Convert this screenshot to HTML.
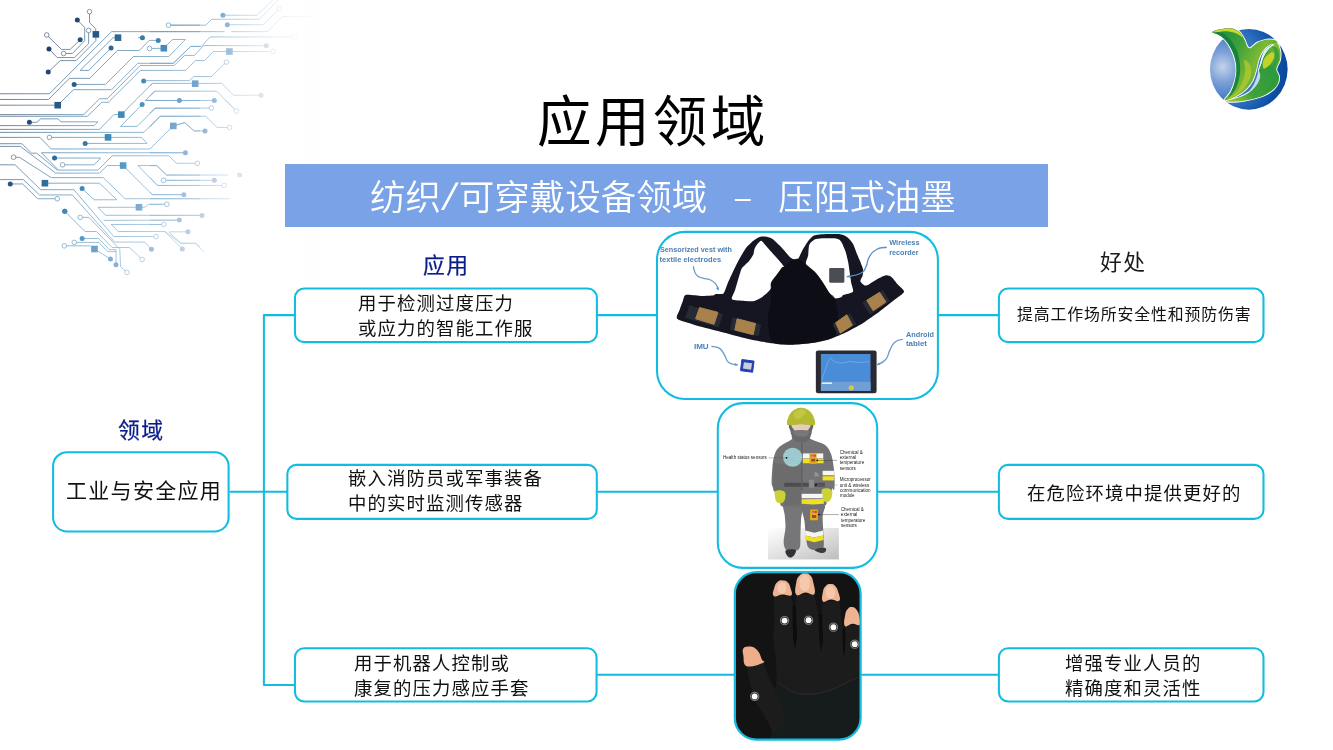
<!DOCTYPE html>
<html lang="zh-CN">
<head>
<meta charset="utf-8">
<title>应用领域</title>
<style>
html,body{margin:0;padding:0;background:#fff;}
body{width:1333px;height:750px;position:relative;overflow:hidden;font-family:"Liberation Sans","Noto Sans CJK SC",sans-serif;color:#000;}
.abs{position:absolute;}
#art{position:absolute;left:0;top:0;width:1333px;height:750px;}
.t{position:absolute;white-space:nowrap;line-height:1;will-change:transform;}
#title{left:536.5px;top:96px;font-size:54.5px;letter-spacing:3.4px;}
#bar{left:285px;top:164px;width:763px;height:63px;background:#7aa2e6;}
#sub{left:370px;top:176.5px;font-size:35.5px;color:#fff;font-weight:350;font-family:"Noto Sans CJK SC","Liberation Sans",sans-serif;}
#sub i{display:inline-block;font-style:normal;text-align:center;}
.lbl{font-size:21.8px;letter-spacing:1.4px;color:#0a1e88;-webkit-text-stroke:0.25px #0a1e88;}
.box{font-size:18.4px;letter-spacing:1.1px;line-height:24.6px;color:#111;}
</style>
</head>
<body>
<svg id="art" viewBox="0 0 1333 750">
<defs>
<filter id="soft" x="-5%" y="-5%" width="110%" height="110%"><feGaussianBlur stdDeviation="0.45"/></filter>
<filter id="soft2" x="-5%" y="-20%" width="110%" height="140%"><feGaussianBlur stdDeviation="0.3"/></filter>
<clipPath id="clip1"><rect x="657" y="231.85" width="280.9" height="167.05" rx="28"/></clipPath>
<clipPath id="clip2"><rect x="717.8" y="403.1" width="159.4" height="164.75" rx="25"/></clipPath>
<clipPath id="clip3"><rect x="734.8" y="572.3" width="125.6" height="167.1" rx="21"/></clipPath>
<linearGradient id="shad" x1="0" y1="0" x2="1" y2="1"><stop offset="0" stop-color="#ffffff"/><stop offset="0.45" stop-color="#e4e4e4"/><stop offset="1" stop-color="#bdbdbd"/></linearGradient>
<radialGradient id="lg1" cx="0.18" cy="0.47" r="0.9" fx="0.16" fy="0.47"><stop offset="0" stop-color="#c4d2ec"/><stop offset="0.22" stop-color="#7a9fd6"/><stop offset="0.5" stop-color="#3574c2"/><stop offset="0.8" stop-color="#0f50a6"/><stop offset="1" stop-color="#083e90"/></radialGradient>
<linearGradient id="lg2" x1="0" y1="0" x2="1" y2="0.6"><stop offset="0" stop-color="#1c8a3e"/><stop offset="0.4" stop-color="#3c9f3a"/><stop offset="0.7" stop-color="#7cba34"/><stop offset="1" stop-color="#3f9f3a"/></linearGradient>
<linearGradient id="lg3" x1="1" y1="0" x2="0" y2="1"><stop offset="0" stop-color="#8cc232"/><stop offset="0.3" stop-color="#2f9a3c"/><stop offset="0.7" stop-color="#3fa23a"/><stop offset="1" stop-color="#b4cc2c"/></linearGradient>
<linearGradient id="cg" gradientUnits="userSpaceOnUse" x1="20" y1="40" x2="290" y2="190"><stop offset="0" stop-color="#3a4866"/><stop offset="0.3" stop-color="#4a86ae"/><stop offset="0.6" stop-color="#7eaed0"/><stop offset="0.85" stop-color="#c2d4e8"/><stop offset="1" stop-color="#f4f7fb"/></linearGradient>
<linearGradient id="cg2" gradientUnits="userSpaceOnUse" x1="20" y1="40" x2="290" y2="190"><stop offset="0" stop-color="#0f1d4a"/><stop offset="0.25" stop-color="#1f5a8a"/><stop offset="0.45" stop-color="#3d8fc0"/><stop offset="0.65" stop-color="#8fb0d6"/><stop offset="0.85" stop-color="#cfdaec"/><stop offset="1" stop-color="#f4f7fb"/></linearGradient>
<linearGradient id="cfade" gradientUnits="userSpaceOnUse" x1="205" y1="0" x2="305" y2="0"><stop offset="0" stop-color="#fff" stop-opacity="0"/><stop offset="1" stop-color="#fff" stop-opacity="0.9"/></linearGradient>
</defs>
<g id="circuit" opacity="0.95">
<g fill="none" stroke="url(#cg)" stroke-width="0.75" stroke-linejoin="round">
<path d="M89.53 11.61 L89.53 22.61 L95.7 28.64 L95.86 34.36 M77.32 20.05 L84.7 27.43 L84.7 40.69 L72.34 53.5 L63.6 53.5 M88.62 30.44 L88.62 43.71 L74.6 57.57 L57.27 57.57 L48.98 48.98 M46.72 34.97 L61.49 49.43 L70.08 49.43 L80.18 39.79 M95.86 34.36 L95.86 40.69 L76.11 60.59 L60.29 60.59 L48.23 72.04 M0 93.75 L49.43 93.75 L111.53 31.65 L200 31.65 M150 31.65 L224.6 31.65 M231.39 31.65 L267.56 31.65 L282.33 16.58 L314.28 16.58 M0 99.47 L48.53 99.47 L69.33 78.37 L89.68 78.37 L117.56 50.49 L139.41 50.49 L149.21 40.39 L158.25 40.39 M118.01 37.68 L113.04 37.68 L80.18 70.38 L88.92 70.38 L111.08 47.93 M0 105.2 L57.72 105.2 L73.55 89.68 L111.53 89.68 L137.91 63.3 L173.32 63.3 L190.66 46.42 L200 46.42 M74.15 84.4 L105.5 84.4 L133.38 56.52 L168.8 56.52 L185.38 39.49 L172.57 39.49 L163.83 48.23 M168.5 25.17 L200 25.17 M137.91 37.68 L142.43 37.68 M149.51 48.53 L163.83 48.23 M107.76 98.27 L140.17 65.56 L149.96 65.56 M109.27 101.28 L140.47 70.38 L149.96 70.38 M135.64 99.92 L152.22 83.65 M143.63 80.93 L149.96 80.63 M155.24 91.18 L145.44 100.23 L150.72 100.53 M168.54 25.17 L205.76 25.17 L211.79 19.29 L259.27 19.29 L278.11 0 M222.95 15.22 L257.01 15.22 L272.83 0 M227.32 24.72 L263.34 24.72 L279.62 8.29 M150 63.3 L173.36 63.3 L190.69 46.42 L201.24 46.42 L210.29 36.93 L294.39 36.93 M150 65.56 L174.11 65.56 L184.66 55.46 L194.46 55.46 L203.5 45.52 L266.35 45.82 M150 70.38 L185.72 70.38 L195.21 60.59 L204.56 60.59 L213.3 51.54 L273.13 51.54 M150 80.63 L189.49 80.63 L193.71 76.56 L211.49 76.56 L226.41 62.09 M150 85.91 L152.26 83.35 L221.59 83.35 L233.65 95.25 L261.08 95.25 M150 95.7 L154.52 91.18 L216.62 91.18 L236.36 111.08 M150 100.53 L214.36 100.53 M150 113.04 L155.28 108.06 L211.34 108.06 M0 114.62 L83.65 114.62 L99.47 98.79 L107.76 98.79 M0 116.28 L87.42 116.28 L101.73 102.26 L109.27 102.26 M29.39 122.31 L36.93 122.31 L40.69 118.84 L58.03 118.84 L61.04 121.85 L97.97 121.85 L94.2 125.62 L0 125.62 M0 129.39 L99.47 129.39 L113.79 114.62 L121.33 114.62 L135.64 100 M0 132.4 L143.93 132.4 L159.76 116.28 L200 116.28 M0 137.38 L39.94 137.38 L51.24 148.98 L149.96 148.98 L173.32 125.92 L184.63 122.61 L194.42 130.9 L200 130.9 M49.43 137.38 L141.67 137.38 L146.95 143.41 L85.15 143.41 M142.13 104.52 L120.57 126.38 L137.15 126.38 L155.24 108.29 L200 108.29 M145.44 100.45 L200 100.45 M0 143.71 L21.85 143.71 L31.65 153.2 L36.62 153.2 L57.27 170.08 L97.97 170.08 L112.28 155.76 L168.8 155.76 L176.34 163.3 L197.44 163.3 M0 146.42 L20.35 146.42 L55.76 173.1 L99.47 173.1 L107.31 165.56 L123.13 165.56 L152.22 194.65 L183.87 194.65 M58.03 169.63 L41.45 152.75 L185.38 152.75 M54.56 158.03 L100.68 158.03 L94.2 164.81 L62.55 164.81 M13.56 157.27 L19.29 157.27 L51.24 177.62 L103.24 177.62 L125.09 198.72 L200 198.72 M0 164.81 L15.07 164.81 L40.69 189.68 L73.85 189.68 M44.91 183.2 L99.47 183.2 L116.8 199.77 L94.2 199.77 L82.14 188.62 M0 179.58 L23.36 179.58 L39.49 194.95 L72.34 194.95 M10.25 183.95 L22.61 183.95 L37.68 198.72 L57.27 198.72 M200 175.06 L166.54 175.06 L156.74 165.56 L137.91 165.56 L157.5 185.46 L200 185.46 M163.53 180.33 L200 180.33 M97.97 207.31 L138.96 207.31 L144.69 207.31 L148.46 204.3 L166.84 204.3 M97.97 207.31 L105.5 215.3 L200 215.3 M73.85 189.65 L113.79 236.52 L155.99 236.52 M72.34 195.07 L114.54 242.09 L144.69 242.09 L151.47 249.33 M103.99 220.39 L179.35 220.09 M163.83 224.46 L111.08 224.46 L118.31 231.54 L165.03 231.54 L180.86 243.3 L195.93 243.3 L200 247.07 M169.56 231.85 L187.94 231.85 M165.03 231.54 L182.37 249.03 M64.81 211.35 L85.15 231.54 L96.46 231.54 L112.28 247.52 L129.62 247.52 L142.13 259.43 M80.18 217.38 L88.92 217.38 L119.82 249.33 L120.57 266.66 L126.9 272.39 M82.14 238.48 L98.72 238.48 L109.27 249.63 L116.05 249.63 L116.05 264.7 M74.3 242.4 L98.72 242.4 L107.76 251.59 L116.05 251.59 M64.36 245.86 L90.43 245.86 L94.5 249.03 L110.47 258.98 M225.36 100 L236.36 111 M150 126.83 L160.25 116.28 L205.76 116.28 L217.07 127.43 L229.58 127.43 M173.36 125.92 L184.97 122.61 L193.71 130.9 L205.01 130.9 M150 152.75 L185.72 152.75 M150 165.56 L156.78 165.56 L166.58 175.06 L228.37 175.06 M163.56 180.33 L214.36 180.33 M150 177.62 L157.54 185.46 L224.15 185.46 M150 191.94 L152.26 194.65 L183.91 194.65 M150 198.72 L229.88 198.72 M150 204.3 L166.88 204.3 M150 215.42 L202 215.42 M150 220.39 L179.69 220.09 M150 224.46 L163.87 224.46 M168.84 231.85 L180.9 243.3 L195.21 243.3 L204.26 252.34"/>
</g>
<g fill="url(#cg2)">
<circle cx="77.32" cy="20.05" r="2.5"/>
<circle cx="48.98" cy="48.98" r="2.5"/>
<circle cx="80.18" cy="39.79" r="2.5"/>
<circle cx="48.23" cy="72.04" r="2.5"/>
<circle cx="158.25" cy="40.39" r="2.5"/>
<circle cx="111.08" cy="47.93" r="2.5"/>
<circle cx="74.15" cy="84.4" r="2.5"/>
<circle cx="142.43" cy="37.68" r="2.5"/>
<circle cx="143.63" cy="80.93" r="2.5"/>
<circle cx="222.95" cy="15.22" r="2.5"/>
<circle cx="227.32" cy="24.72" r="2.5"/>
<circle cx="266.35" cy="45.82" r="2.5"/>
<circle cx="261.08" cy="95.25" r="2.5"/>
<circle cx="179.39" cy="100.53" r="2.5"/>
<circle cx="214.36" cy="100.53" r="2.5"/>
<circle cx="29.39" cy="122.31" r="2.5"/>
<circle cx="85.15" cy="143.41" r="2.5"/>
<circle cx="142.13" cy="104.52" r="2.5"/>
<circle cx="183.87" cy="194.65" r="2.5"/>
<circle cx="185.38" cy="152.75" r="2.5"/>
<circle cx="54.56" cy="158.03" r="2.5"/>
<circle cx="82.14" cy="188.62" r="2.5"/>
<circle cx="10.25" cy="183.95" r="2.5"/>
<circle cx="64.81" cy="211.23" r="2.5"/>
<circle cx="151.47" cy="249.33" r="2.5"/>
<circle cx="179.35" cy="220.09" r="2.5"/>
<circle cx="187.94" cy="231.85" r="2.5"/>
<circle cx="182.37" cy="249.03" r="2.5"/>
<circle cx="64.81" cy="211.35" r="2.5"/>
<circle cx="82.14" cy="238.48" r="2.5"/>
<circle cx="116.05" cy="264.7" r="2.5"/>
<circle cx="110.47" cy="258.98" r="2.5"/>
<circle cx="205.01" cy="130.9" r="2.5"/>
<circle cx="239.68" cy="175.06" r="2.5"/>
<circle cx="214.36" cy="180.33" r="2.5"/>
<circle cx="202.0" cy="215.42" r="2.5"/>
<rect x="92.56" y="31.06" width="6.6" height="6.6"/>
<rect x="114.71" y="34.38" width="6.6" height="6.6"/>
<rect x="54.42" y="101.90" width="6.6" height="6.6"/>
<rect x="160.53" y="44.93" width="6.6" height="6.6"/>
<rect x="226.13" y="48.24" width="6.6" height="6.6"/>
<rect x="191.91" y="80.35" width="6.6" height="6.6"/>
<rect x="118.03" y="111.32" width="6.6" height="6.6"/>
<rect x="170.02" y="122.62" width="6.6" height="6.6"/>
<rect x="104.76" y="134.08" width="6.6" height="6.6"/>
<rect x="119.83" y="162.26" width="6.6" height="6.6"/>
<rect x="41.61" y="179.90" width="6.6" height="6.6"/>
<rect x="135.66" y="204.01" width="6.6" height="6.6"/>
<rect x="91.20" y="245.73" width="6.6" height="6.6"/>
</g>
<g fill="#fff" stroke="url(#cg)" stroke-width="0.7">
<circle cx="89.53" cy="11.61" r="2.3"/>
<circle cx="63.6" cy="53.5" r="2.3"/>
<circle cx="88.62" cy="30.44" r="2.3"/>
<circle cx="46.72" cy="34.97" r="2.3"/>
<circle cx="168.5" cy="25.17" r="2.3"/>
<circle cx="149.51" cy="48.53" r="2.3"/>
<circle cx="279.62" cy="8.29" r="2.3"/>
<circle cx="294.39" cy="36.93" r="2.3"/>
<circle cx="273.13" cy="51.54" r="2.3"/>
<circle cx="226.41" cy="62.09" r="2.3"/>
<circle cx="236.36" cy="111.08" r="2.3"/>
<circle cx="211.34" cy="108.06" r="2.3"/>
<circle cx="49.43" cy="137.38" r="2.3"/>
<circle cx="197.44" cy="163.3" r="2.3"/>
<circle cx="62.55" cy="164.81" r="2.3"/>
<circle cx="13.56" cy="157.27" r="2.3"/>
<circle cx="57.27" cy="198.72" r="2.3"/>
<circle cx="163.53" cy="180.33" r="2.3"/>
<circle cx="166.84" cy="204.3" r="2.3"/>
<circle cx="155.99" cy="236.52" r="2.3"/>
<circle cx="163.83" cy="224.46" r="2.3"/>
<circle cx="142.13" cy="259.43" r="2.3"/>
<circle cx="80.18" cy="217.38" r="2.3"/>
<circle cx="126.9" cy="272.39" r="2.3"/>
<circle cx="74.3" cy="242.4" r="2.3"/>
<circle cx="64.36" cy="245.86" r="2.3"/>
<circle cx="229.58" cy="127.43" r="2.3"/>
<circle cx="163.56" cy="180.33" r="2.3"/>
<circle cx="224.15" cy="185.46" r="2.3"/>
<circle cx="166.88" cy="204.3" r="2.3"/>
</g>
<rect x="0" y="0" width="320" height="300" fill="url(#cfade)"/>
</g>
<g id="logo" filter="url(#soft)">
<ellipse cx="1248.8" cy="69.33" rx="38.8" ry="40.3" fill="url(#lg1)"/>
<path d="M1212 32.27 C1212.22 31.34 1216.89 30.00 1220 29.33 C1223.11 28.66 1227.56 27.94 1230.67 28.27 C1233.78 28.60 1236.45 29.60 1238.67 31.33 C1240.89 33.06 1242.27 35.85 1244 38.67 C1245.73 41.49 1246.85 47.60 1249.07 48.27 C1251.29 48.94 1254.40 44.12 1257.33 42.67 C1260.26 41.23 1263.78 40.05 1266.67 39.6 C1269.56 39.16 1272.94 39.45 1274.67 40 C1276.40 40.55 1277.96 42.09 1277.07 42.93 C1276.18 43.77 1271.69 43.74 1269.33 45.07 C1266.97 46.40 1264.66 48.62 1262.93 50.93 C1261.20 53.24 1260.04 55.82 1258.93 58.93 C1257.82 62.04 1257.29 66.04 1256.27 69.6 C1255.25 73.16 1254.58 76.94 1252.8 80.27 C1251.02 83.60 1248.40 86.93 1245.6 89.6 C1242.80 92.27 1239.49 94.49 1236 96.27 C1232.51 98.05 1225.56 100.98 1224.67 100.27 C1223.78 99.56 1228.96 95.16 1230.67 92 C1232.38 88.84 1233.95 84.88 1234.93 81.33 C1235.91 77.78 1236.48 74.22 1236.53 70.67 C1236.58 67.12 1236.07 63.51 1235.2 60 C1234.33 56.49 1232.97 52.89 1231.33 49.6 C1229.68 46.31 1227.44 42.72 1225.33 40.27 C1223.22 37.83 1220.89 36.26 1218.67 34.93 C1216.45 33.60 1211.78 33.20 1212 32.27Z" fill="#fff" stroke="#fff" stroke-width="1.8" stroke-linejoin="round"/>
<path d="M1277.07 42.93 C1278.45 43.71 1279.78 47.83 1280.27 50.67 C1280.76 53.52 1280.67 56.93 1280 60 C1279.33 63.07 1276.45 66.40 1276.27 69.07 C1276.09 71.74 1278.62 73.69 1278.93 76 C1279.24 78.31 1279.06 80.66 1278.13 82.93 C1277.20 85.20 1275.68 87.51 1273.33 89.6 C1270.97 91.69 1267.78 93.83 1264 95.47 C1260.22 97.11 1255.12 98.45 1250.67 99.47 C1246.23 100.49 1241.44 101.29 1237.33 101.6 C1233.22 101.91 1225.56 102.08 1226 101.33 C1226.44 100.58 1236.07 98.62 1240 97.07 C1243.93 95.51 1246.93 93.96 1249.6 92 C1252.27 90.04 1254.36 87.78 1256 85.33 C1257.64 82.88 1259.03 79.66 1259.47 77.33 C1259.91 75.00 1258.40 73.55 1258.67 71.33 C1258.94 69.11 1260.27 66.33 1261.07 64 C1261.87 61.67 1262.43 59.55 1263.47 57.33 C1264.51 55.11 1265.91 52.56 1267.33 50.67 C1268.75 48.78 1270.38 47.29 1272 46 C1273.62 44.71 1275.69 42.15 1277.07 42.93Z" fill="#fff" stroke="#fff" stroke-width="1.8" stroke-linejoin="round"/>
<path d="M1212 32.27 C1212.22 31.34 1216.89 30.00 1220 29.33 C1223.11 28.66 1227.56 27.94 1230.67 28.27 C1233.78 28.60 1236.45 29.60 1238.67 31.33 C1240.89 33.06 1242.27 35.85 1244 38.67 C1245.73 41.49 1246.85 47.60 1249.07 48.27 C1251.29 48.94 1254.40 44.12 1257.33 42.67 C1260.26 41.23 1263.78 40.05 1266.67 39.6 C1269.56 39.16 1272.94 39.45 1274.67 40 C1276.40 40.55 1277.96 42.09 1277.07 42.93 C1276.18 43.77 1271.69 43.74 1269.33 45.07 C1266.97 46.40 1264.66 48.62 1262.93 50.93 C1261.20 53.24 1260.04 55.82 1258.93 58.93 C1257.82 62.04 1257.29 66.04 1256.27 69.6 C1255.25 73.16 1254.58 76.94 1252.8 80.27 C1251.02 83.60 1248.40 86.93 1245.6 89.6 C1242.80 92.27 1239.49 94.49 1236 96.27 C1232.51 98.05 1225.56 100.98 1224.67 100.27 C1223.78 99.56 1228.96 95.16 1230.67 92 C1232.38 88.84 1233.95 84.88 1234.93 81.33 C1235.91 77.78 1236.48 74.22 1236.53 70.67 C1236.58 67.12 1236.07 63.51 1235.2 60 C1234.33 56.49 1232.97 52.89 1231.33 49.6 C1229.68 46.31 1227.44 42.72 1225.33 40.27 C1223.22 37.83 1220.89 36.26 1218.67 34.93 C1216.45 33.60 1211.78 33.20 1212 32.27Z" fill="url(#lg2)"/>
<path d="M1277.07 42.93 C1278.45 43.71 1279.78 47.83 1280.27 50.67 C1280.76 53.52 1280.67 56.93 1280 60 C1279.33 63.07 1276.45 66.40 1276.27 69.07 C1276.09 71.74 1278.62 73.69 1278.93 76 C1279.24 78.31 1279.06 80.66 1278.13 82.93 C1277.20 85.20 1275.68 87.51 1273.33 89.6 C1270.97 91.69 1267.78 93.83 1264 95.47 C1260.22 97.11 1255.12 98.45 1250.67 99.47 C1246.23 100.49 1241.44 101.29 1237.33 101.6 C1233.22 101.91 1225.56 102.08 1226 101.33 C1226.44 100.58 1236.07 98.62 1240 97.07 C1243.93 95.51 1246.93 93.96 1249.6 92 C1252.27 90.04 1254.36 87.78 1256 85.33 C1257.64 82.88 1259.03 79.66 1259.47 77.33 C1259.91 75.00 1258.40 73.55 1258.67 71.33 C1258.94 69.11 1260.27 66.33 1261.07 64 C1261.87 61.67 1262.43 59.55 1263.47 57.33 C1264.51 55.11 1265.91 52.56 1267.33 50.67 C1268.75 48.78 1270.38 47.29 1272 46 C1273.62 44.71 1275.69 42.15 1277.07 42.93Z" fill="url(#lg3)"/>
<path d="M1214.67 32.67 C1215.12 32.34 1220.00 32.11 1222.67 33.33 C1225.34 34.55 1228.23 36.89 1230.67 40 C1233.11 43.11 1235.77 47.78 1237.33 52 C1238.88 56.22 1239.67 61.11 1240 65.33 C1240.33 69.55 1240.11 73.33 1239.33 77.33 C1238.55 81.33 1237.11 86.00 1235.33 89.33 C1233.55 92.66 1229.00 97.77 1228.67 97.33 C1228.34 96.89 1232.06 90.67 1233.33 86.67 C1234.60 82.67 1235.87 77.55 1236.27 73.33 C1236.67 69.11 1236.44 65.22 1235.73 61.33 C1235.02 57.44 1233.62 53.44 1232 50 C1230.38 46.56 1228.00 43.12 1226 40.67 C1224.00 38.23 1221.89 36.66 1220 35.33 C1218.11 34.00 1214.23 33.00 1214.67 32.67Z" fill="#14803c" opacity="0.9"/>
<path d="M1212.67 32.27 C1212.89 31.87 1217.00 30.22 1220 29.6 C1223.00 28.98 1227.60 28.22 1230.67 28.53 C1233.74 28.84 1236.40 30.00 1238.4 31.47 C1240.40 32.94 1243.07 37.02 1242.67 37.33 C1242.27 37.64 1238.67 34.33 1236 33.33 C1233.33 32.33 1229.56 31.55 1226.67 31.33 C1223.78 31.11 1221.00 31.84 1218.67 32 C1216.34 32.16 1212.45 32.67 1212.67 32.27Z" fill="#cdd62a"/>
<path d="M1244 60 C1243.22 60.89 1245.55 67.12 1245.33 70.67 C1245.11 74.22 1244.00 78.00 1242.67 81.33 C1241.34 84.66 1239.77 87.78 1237.33 90.67 C1234.88 93.56 1228.00 98.00 1228 98.67 C1228.00 99.34 1234.44 96.67 1237.33 94.67 C1240.22 92.67 1243.11 89.78 1245.33 86.67 C1247.55 83.56 1249.89 79.56 1250.67 76 C1251.45 72.44 1251.11 68.00 1250 65.33 C1248.89 62.66 1244.78 59.11 1244 60Z" fill="#b8ca2e" opacity="0.7"/>
<path d="M1275.33 44.8 C1275.55 44.89 1270.56 46.62 1268.67 48.27 C1266.78 49.92 1265.18 52.27 1264 54.67 C1262.82 57.07 1262.49 60.18 1261.6 62.67 C1260.71 65.16 1258.89 69.64 1258.67 69.6 C1258.45 69.55 1259.60 64.98 1260.27 62.4 C1260.94 59.82 1261.49 56.58 1262.67 54.13 C1263.85 51.69 1265.22 49.28 1267.33 47.73 C1269.44 46.17 1275.11 44.71 1275.33 44.8Z" fill="#f4f8fb"/>
<path d="M1264.67 58 C1266.00 56.11 1269.12 53.45 1270.67 52.67 C1272.23 51.89 1273.51 52.33 1274 53.33 C1274.49 54.33 1274.27 56.78 1273.6 58.67 C1272.93 60.56 1271.60 63.00 1270 64.67 C1268.40 66.34 1265.22 68.78 1264 68.67 C1262.78 68.56 1262.56 65.78 1262.67 64 C1262.78 62.22 1263.34 59.89 1264.67 58Z" fill="#d2d828" opacity="0.9"/>
<path d="M1272 46.67 C1272.44 46.23 1276.22 46.89 1277.33 48.67 C1278.44 50.45 1279.00 54.44 1278.67 57.33 C1278.34 60.22 1276.33 63.78 1275.33 66 C1274.33 68.22 1272.45 68.78 1272.67 70.67 C1272.89 72.56 1276.23 75.11 1276.67 77.33 C1277.11 79.55 1276.33 82.00 1275.33 84 C1274.33 86.00 1272.78 87.66 1270.67 89.33 C1268.56 91.00 1262.89 94.44 1262.67 94 C1262.45 93.56 1267.77 89.00 1269.33 86.67 C1270.88 84.34 1272.00 82.22 1272 80 C1272.00 77.78 1270.22 74.78 1269.33 73.33 C1268.44 71.88 1266.11 72.66 1266.67 71.33 C1267.23 70.00 1271.23 67.55 1272.67 65.33 C1274.11 63.11 1275.00 60.33 1275.33 58 C1275.66 55.67 1275.23 53.22 1274.67 51.33 C1274.12 49.44 1271.56 47.11 1272 46.67Z" fill="#2e9c3c" opacity="0.8"/>
<path d="M1258.67 71.33 C1259.27 71.11 1260.36 74.11 1260.27 76 C1260.18 77.89 1259.29 80.56 1258.13 82.67 C1256.97 84.78 1254.75 87.23 1253.33 88.67 C1251.91 90.11 1249.49 92.11 1249.6 91.33 C1249.71 90.55 1252.82 86.33 1254 84 C1255.18 81.67 1255.89 79.44 1256.67 77.33 C1257.45 75.22 1258.07 71.55 1258.67 71.33Z" fill="#c8d8f0"/>
</g>
<g fill="none" stroke="#12bce0" stroke-width="2.05" stroke-linejoin="round">
<path d="M229.5 491.8H287.3 M294.9 315.1H263.9V684.9H294.9"/>
<path d="M597 315.1H657 M938 315.1H999 M597 491.8H717.8 M877.2 491.8H999 M596.5 674.7H734.6 M860.6 674.7H999"/>
<rect x="53.1" y="452.2" width="175.5" height="79.3" rx="14" fill="#fff"/>
<rect x="294.95" y="288.5" width="301.95" height="53.6" rx="9.2" fill="#fff"/>
<rect x="287.35" y="464.85" width="309.45" height="54" rx="9.2" fill="#fff"/>
<rect x="294.95" y="648.2" width="301.6" height="53.3" rx="9.2" fill="#fff"/>
<rect x="998.9" y="288.5" width="264.6" height="53.6" rx="9.2" fill="#fff"/>
<rect x="998.9" y="464.85" width="264.6" height="54" rx="9.2" fill="#fff"/>
<rect x="998.9" y="648.2" width="264.6" height="53.3" rx="9.2" fill="#fff"/>
</g>
<rect x="657" y="231.85" width="280.9" height="167.05" rx="28" fill="#fff"/>
<g id="vest" clip-path="url(#clip1)">
<g filter="url(#soft)">
<path d="M685.99 294.77 C688.23 294.15 698.85 295.79 701.98 295.89 C705.11 295.99 711.16 295.82 712.8 295.6 C714.44 295.38 714.76 294.25 716 294 C717.24 293.75 722.10 294.71 723.47 293.47 C724.84 292.23 726.61 285.88 727.73 283.33 C728.85 280.78 731.70 274.46 733.07 271.6 C734.44 268.74 737.98 261.54 739.47 258.8 C740.96 256.06 744.25 250.25 745.87 248.13 C747.49 246.01 751.71 241.98 753.33 240.67 C754.95 239.36 758.36 237.40 759.73 236.93 C761.10 236.46 763.58 236.36 765.07 236.61 C766.56 236.86 770.66 237.85 772.53 239.07 C774.40 240.29 779.08 245.02 781.07 247.07 C783.06 249.12 788.11 255.24 789.6 256.67 C791.09 258.10 792.87 259.08 793.87 259.33 C794.87 259.58 797.13 259.86 798.13 258.8 C799.13 257.74 801.28 252.26 802.4 250.27 C803.52 248.28 806.44 243.41 807.73 241.73 C809.02 240.05 811.81 236.74 813.47 235.87 C815.13 235.00 818.89 234.46 822 234.27 C825.11 234.08 837.14 233.90 840.13 234.27 C843.12 234.64 846.11 236.35 847.6 237.47 C849.09 238.59 851.81 241.88 852.93 243.87 C854.05 245.86 856.33 252.41 857.2 254.53 C858.07 256.65 859.72 260.26 860.4 262 C861.08 263.74 862.82 267.85 863.07 269.47 C863.32 271.09 862.84 274.50 862.53 275.87 C862.22 277.24 860.15 280.08 860.4 281.2 C860.65 282.32 863.67 285.10 864.67 285.47 C865.67 285.84 867.44 285.15 868.93 284.4 C870.42 283.65 875.48 280.13 877.47 279.07 C879.46 278.01 884.38 275.58 886 275.33 C887.62 275.08 889.96 275.87 891.33 276.93 C892.70 277.99 896.24 282.66 897.73 284.4 C899.22 286.14 904.57 290.01 904.13 291.87 C903.69 293.73 896.82 298.07 893.95 300.37 C891.08 302.67 883.11 308.95 879.56 311.56 C876.01 314.17 867.11 320.52 863.56 322.76 C860.01 325.00 852.53 329.07 849.17 330.75 C845.81 332.43 838.88 335.75 834.78 337.15 C830.68 338.55 819.21 341.86 813.99 342.75 C808.77 343.64 795.60 344.86 790 344.82 C784.40 344.78 771.55 343.29 765.95 342.43 C760.35 341.57 747.57 338.80 741.97 337.47 C736.37 336.14 723.58 332.56 717.98 331.07 C712.38 329.58 698.75 326.11 693.99 324.67 C689.23 323.23 678.88 320.48 677.2 318.76 C675.52 317.04 678.95 312.01 679.6 309.96 C680.25 307.91 682.04 302.94 682.79 301.17 C683.54 299.40 683.75 295.39 685.99 294.77Z M761.33 240.67 C762.33 240.92 764.57 244.26 766.13 246 C767.69 247.74 772.80 253.48 774.67 255.6 C776.54 257.72 781.01 262.82 782.13 264.13 C783.25 265.44 784.27 266.43 784.27 266.8 C784.27 267.17 783.00 266.40 782.13 267.33 C781.26 268.26 778.11 272.93 776.8 274.8 C775.49 276.67 771.55 281.84 770.93 283.33 C770.31 284.82 771.78 286.60 771.47 287.6 C771.16 288.60 769.39 290.75 768.27 291.87 C767.15 292.99 763.49 296.14 761.87 297.2 C760.25 298.26 756.39 300.49 754.4 300.93 C752.41 301.37 747.41 301.12 744.8 300.93 C742.19 300.74 733.12 300.64 732 299.33 C730.88 298.02 734.20 292.97 735.2 289.73 C736.20 286.49 739.66 274.21 740.53 271.6 C741.40 268.99 741.67 268.57 742.67 267.33 C743.67 266.09 747.83 262.42 749.07 260.93 C750.31 259.44 752.71 255.90 753.33 254.53 C753.95 253.16 753.90 250.44 754.4 249.2 C754.90 247.96 756.79 244.87 757.6 243.87 C758.41 242.87 760.33 240.42 761.33 240.67Z M809.2 244.93 C809.95 243.06 813.04 240.37 814.53 239.6 C816.02 238.83 819.39 238.42 822 238.32 C824.61 238.22 834.69 238.35 836.93 238.75 C839.17 239.15 840.20 240.26 841.2 241.73 C842.20 243.20 844.66 248.97 845.47 251.33 C846.28 253.69 847.63 259.51 848.13 262 C848.63 264.49 849.36 270.18 849.73 272.67 C850.10 275.16 850.96 281.09 851.33 283.33 C851.70 285.57 853.86 290.50 852.93 291.87 C852.00 293.24 844.70 294.45 843.33 295.07 C841.96 295.69 842.20 296.83 841.2 297.2 C840.20 297.57 836.17 298.77 834.8 298.27 C833.43 297.77 830.96 294.92 829.47 292.93 C827.98 290.94 823.74 283.69 822 281.2 C820.26 278.71 816.40 273.59 814.53 271.6 C812.66 269.61 806.75 266.00 806 264.13 C805.25 262.26 807.76 257.84 808.13 255.6 C808.50 253.36 808.45 246.80 809.2 244.93Z" fill="#131620" fill-rule="evenodd"/>
<path d="M784.27 266.8 C786.55 264.74 792.02 260.40 793.87 259.33 C795.72 258.26 797.65 258.87 798.13 258.8 C798.61 258.73 796.42 258.09 797.47 258.8 C798.52 259.51 803.73 262.42 806 264.13 C808.27 265.84 812.40 269.32 814.53 271.6 C816.66 273.88 820.01 278.36 822 281.2 C823.99 284.04 827.76 290.65 829.47 292.93 C831.18 295.21 833.66 294.93 834.8 298.27 C835.94 301.61 838.11 312.84 838 318 C837.89 323.16 837.20 333.73 834 337 C830.80 340.27 819.87 341.50 814 342.5 C808.13 343.50 795.60 344.57 790 344.5 C784.40 344.43 774.93 345.27 772 342 C769.07 338.73 768.13 325.60 768 320 C767.87 314.40 770.61 304.89 771 300 C771.39 295.11 770.16 286.69 770.93 283.33 C771.70 279.97 775.02 277.00 776.8 274.8 C778.58 272.60 781.99 268.86 784.27 266.8Z" fill="#0a0b0f" opacity="0.75"/>
<path d="M689.19 305.16 L722.77 313.96 L718.78 327.55 L685.19 317.96Z" fill="#262932"/>
<path d="M732.37 317.16 L761.16 324.35 L758.76 336.35 L729.97 329.95Z" fill="#262932"/>
<path d="M861.97 302.77 L882.76 289.97 L889.95 301.17 L869.96 314.76Z" fill="#262932"/>
<path d="M832.38 324.35 L849.97 313.16 L856.37 324.35 L837.98 335.55Z" fill="#262932"/>
<path d="M699.59 307.56 L717.98 312.36 L713.98 324.35 L695.59 318.76Z" fill="#a9814e" stroke="#a9814e" stroke-width="1" stroke-linejoin="round"/>
<path d="M737.17 318.76 L755.56 323.56 L753.16 334.75 L734.77 329.95Z" fill="#a9814e" stroke="#a9814e" stroke-width="1" stroke-linejoin="round"/>
<path d="M866.76 300.37 L879.56 292.37 L885.95 301.97 L873.16 310.76Z" fill="#a9814e" stroke="#a9814e" stroke-width="1" stroke-linejoin="round"/>
<path d="M835.58 322.76 L846.77 314.76 L852.37 325.15 L840.38 333.15Z" fill="#a9814e" stroke="#a9814e" stroke-width="1" stroke-linejoin="round"/>
<rect x="829.18" y="268.06" width="15.19" height="14.71" rx="1.3" fill="#4b4e54"/>
<path d="M741.91 359.5 L754.06 361.12 L752.64 372.26 L740.49 370.64Z" fill="#2442b4" stroke="#2442b4" stroke-width="1" stroke-linejoin="round"/>
<path d="M743.93 362.13 L752.03 363.14 L751.02 369.63 L742.92 368.61Z" fill="#c9cede"/>
<rect x="815.84" y="350.38" width="60.76" height="42.94" rx="2.2" fill="#2b2c31"/>
<rect x="820.9" y="354.03" width="49.63" height="36.86" fill="#4a8dd8"/>
<rect x="820.9" y="381.78" width="49.63" height="9.11" fill="#6f9fd6"/>
<circle cx="851.28" cy="387.85" r="2.6" fill="#d8c840"/>
<path d="M821.91 380.77 C822.52 378.74 823.33 375.10 824.95 370.64 C826.57 366.18 828.20 360.30 830.02 358.48 C831.84 356.66 831.64 360.63 834.07 361.52 C836.50 362.41 838.93 362.94 842.17 362.94 C845.41 362.94 847.03 361.60 850.27 361.52 C853.51 361.44 854.52 362.54 858.37 362.54 C862.22 362.54 867.28 361.72 869.51 361.52" fill="none" stroke="#8fc0ee" stroke-width="0.5"/>
<rect x="821.91" y="382.39" width="10.13" height="1.62" fill="#e8eef8"/>
<path d="M693.2 266.2 C694.00 268.44 693.64 271.40 696.2 274.6 C698.76 277.80 699.12 276.82 702.8 278.2 C706.48 279.58 706.64 278.32 710 279.76 C713.36 281.20 713.10 280.82 715.4 283.6 C717.70 286.38 717.78 288.44 718.64 290.2" fill="none" stroke="#6a9ac8" stroke-width="1.3"/>
<path d="M886.75 247.27 C883.98 247.87 881.05 246.86 876.36 249.51 C871.67 252.16 871.93 252.58 869.16 257.19 C866.39 261.80 868.30 262.43 865.96 266.78 C863.62 271.13 865.49 270.85 860.37 273.5 C855.25 276.15 850.40 275.85 846.77 276.7" fill="none" stroke="#5b92c6" stroke-width="1.4"/>
<path d="M711.52 346.33 C713.68 346.87 716.12 345.93 719.63 348.36 C723.14 350.79 722.26 351.67 724.69 355.45 C727.12 359.23 725.23 360.00 728.74 362.54 C732.25 365.08 735.42 364.32 737.85 364.97" fill="none" stroke="#6a9ac8" stroke-width="1.3"/>
<path d="M902.93 339.24 C900.77 340.05 898.34 339.31 894.83 342.28 C891.32 345.25 892.20 345.79 889.77 350.38 C887.34 354.97 889.12 355.61 885.72 359.5 C882.32 363.39 879.33 363.51 877.01 364.97" fill="none" stroke="#6a9ac8" stroke-width="1.3"/>
<path d="M0 0L-3 -1.4L-3 1.4Z" transform="translate(718.64 290.2) rotate(60)" fill="#5b92c6"/>
<path d="M0 0L-3 -1.4L-3 1.4Z" transform="translate(846.77 276.7) rotate(175)" fill="#5b92c6"/>
<path d="M0 0L-3 -1.4L-3 1.4Z" transform="translate(737.85 364.97) rotate(10)" fill="#5b92c6"/>
<path d="M0 0L-3 -1.4L-3 1.4Z" transform="translate(877.01 364.97) rotate(150)" fill="#5b92c6"/>
</g>
<g font-family="'Liberation Sans',sans-serif" font-weight="bold" font-size="7.6" fill="#4c80b4" filter="url(#soft2)">
<text x="659.96" y="252.16" textLength="72" lengthAdjust="spacingAndGlyphs">Sensorized vest with</text>
<text x="659.6" y="262.0" textLength="61.5" lengthAdjust="spacingAndGlyphs">textile electrodes</text>
<text x="889.15" y="245.19" textLength="30.5" lengthAdjust="spacingAndGlyphs">Wireless</text>
<text x="889.15" y="255.11" textLength="29.5" lengthAdjust="spacingAndGlyphs">recorder</text>
<text x="693.9" y="349.37" textLength="14.8" lengthAdjust="spacingAndGlyphs">IMU</text>
<text x="905.97" y="336.61" textLength="28" lengthAdjust="spacingAndGlyphs">Android</text>
<text x="905.97" y="346.33" textLength="21" lengthAdjust="spacingAndGlyphs">tablet</text>
</g>
</g>
<rect x="717.8" y="403.1" width="159.4" height="164.75" rx="25" fill="#fff"/>
<g id="fire" clip-path="url(#clip2)">
<g filter="url(#soft)">
<rect x="768.02" y="528.02" width="70.83" height="31.45" fill="url(#shad)"/>
<path d="M784.23 504.01 C787.03 502.01 798.83 501.41 801.63 504.01 C804.43 506.61 801.23 514.62 801.03 519.62 C800.83 524.62 800.63 529.42 800.43 534.02 C800.23 538.62 800.73 544.43 799.83 547.23 C798.93 550.03 797.23 550.33 795.03 550.83 C792.83 551.33 788.53 551.63 786.63 550.23 C784.73 548.83 783.83 546.12 783.63 542.42 C783.43 538.72 785.23 532.42 785.43 528.02 C785.63 523.62 785.03 520.01 784.83 516.01 C784.63 512.01 781.43 506.01 784.23 504.01Z" fill="#767678"/>
<path d="M802.83 504.01 C806.03 501.01 820.54 502.01 823.84 504.01 C827.14 506.01 822.74 511.61 822.64 516.01 C822.54 520.41 823.04 526.02 823.24 530.42 C823.44 534.82 823.94 539.32 823.84 542.42 C823.74 545.52 824.04 547.73 822.64 549.03 C821.24 550.33 817.84 550.53 815.44 550.23 C813.04 549.93 809.84 549.53 808.24 547.23 C806.64 544.93 806.44 540.62 805.84 536.42 C805.24 532.22 805.14 527.42 804.64 522.02 C804.14 516.62 799.63 507.01 802.83 504.01Z" fill="#727274"/>
<path d="M786.03 550.23 C787.59 549.03 793.23 548.91 795.03 549.63 C796.83 550.35 795.75 552.27 795.03 553.83 C794.31 555.39 792.99 557.07 791.43 557.43 C789.87 557.79 788.31 557.07 787.23 555.63 C786.15 554.19 784.47 551.43 786.03 550.23Z" fill="#333336"/>
<path d="M815.44 549.39 C816.88 548.60 822.33 547.54 824.44 547.83 C826.55 548.12 826.36 549.80 826 550.83 C825.64 551.86 824.39 552.80 822.64 552.99 C820.89 553.18 818.68 552.51 817.24 551.79 C815.80 551.07 814.00 550.18 815.44 549.39Z" fill="#3a3a3d"/>
<path d="M805.24 530.42 L814.24 532.82 L823.24 530.42 L823.24 535.46 L814.24 537.62 L805.24 535.46Z" fill="#f4f4f0"/>
<path d="M805.24 535.46 L814.24 537.62 L823.24 535.46 L823.6 540.02 L814.24 542.18 L805.6 540.02Z" fill="#f0e020"/>
<rect x="810.04" y="509.41" width="7.80" height="10.81" rx="0.5" fill="#f0a322" />
<rect x="811.84" y="510.97" width="1.92" height="1.68" rx="0" fill="#6a7ad0" />
<rect x="814.48" y="510.97" width="2.16" height="1.92" rx="0" fill="#e03020" />
<rect x="812.08" y="515.05" width="4.08" height="2.89" rx="0" fill="#7a5a20" />
<path d="M792.63 436.01 C795.63 435.41 806.44 435.51 809.44 436.01 C812.44 436.51 808.04 437.52 810.64 439.02 C813.24 440.52 821.64 442.52 825.04 445.02 C828.44 447.52 829.61 450.32 831.05 454.02 C832.49 457.72 833.09 462.63 833.69 467.23 C834.29 471.83 834.59 477.83 834.65 481.63 C834.71 485.43 834.45 488.91 834.05 490.04 C833.65 491.17 832.75 487.87 832.25 488.4 C831.75 488.93 832.45 492.21 831.05 493.21 C829.65 494.21 825.00 492.31 823.84 494.41 C822.68 496.51 830.88 503.77 824.08 505.81 C817.28 507.85 789.83 508.55 783.03 506.65 C776.23 504.75 784.47 496.65 783.27 494.41 C782.07 492.17 777.56 494.41 775.82 493.21 C774.08 492.01 773.52 488.93 772.82 487.2 C772.12 485.47 771.72 485.76 771.62 482.83 C771.52 479.90 771.82 474.03 772.22 469.63 C772.62 465.23 772.92 460.12 774.02 456.42 C775.12 452.72 775.92 450.22 778.82 447.42 C781.72 444.62 789.13 441.52 791.43 439.62 C793.73 437.72 789.63 436.61 792.63 436.01Z" fill="#737375"/>
<path d="M773.42 462.42 L784.23 464.83 L801.03 467.23 L801.03 490.04 L801.03 505.21 L784.23 505.81 L783.63 493.21 L773.42 490.8Z" fill="#6a6a6c" opacity="0.8"/>
<rect x="784.23" y="482.83" width="40.81" height="3.84" fill="#4e4e50"/>
<rect x="801.03" y="439.62" width="1.44" height="50.42" fill="#606062"/>
<path d="M790.83 424.01 C794.98 422.57 807.04 422.57 811.24 424.01 C815.44 425.45 812.08 428.57 811.84 431.21 C811.60 433.85 811.12 435.17 810.04 437.21 C808.96 439.25 809.20 440.58 806.44 441.42 C803.68 442.26 798.99 442.26 796.23 441.42 C793.47 440.58 793.78 439.25 792.63 437.21 C791.48 435.17 790.83 433.85 790.47 431.21 C790.11 428.57 786.68 425.45 790.83 424.01Z" fill="#68686b"/>
<path d="M792.87 424.61 C796.06 423.77 806.01 423.77 809.2 424.61 C812.39 425.45 809.51 427.54 808.84 428.81 C808.17 430.08 808.36 430.54 805.84 430.97 C803.32 431.40 798.75 431.40 796.23 430.97 C793.71 430.54 793.90 430.08 793.23 428.81 C792.56 427.54 789.68 425.45 792.87 424.61Z" fill="#e6cdb6"/>
<path d="M793.83 430.61 C796.47 429.65 805.60 429.65 808.24 430.61 C810.88 431.57 808.48 434.21 807.04 435.41 C805.60 436.61 803.43 436.61 801.03 436.61 C798.63 436.61 796.47 436.61 795.03 435.41 C793.59 434.21 791.19 431.57 793.83 430.61Z" fill="#77777a"/>
<path d="M786.99 423.65 C786.80 422.26 787.18 420.34 788.07 418.01 C788.96 415.68 789.80 413.87 791.43 412 C793.06 410.13 794.31 409.50 796.23 408.64 C798.15 407.78 799.11 407.68 801.03 407.68 C802.95 407.68 803.92 407.78 805.84 408.64 C807.76 409.50 809.01 410.13 810.64 412 C812.27 413.87 813.11 415.68 814 418.01 C814.89 420.34 815.27 422.26 815.08 423.65 C814.89 425.04 815.85 424.87 813.04 424.97 C810.23 425.07 805.83 424.13 801.03 424.13 C796.23 424.13 791.84 425.07 789.03 424.97 C786.22 424.87 787.18 425.04 786.99 423.65Z" fill="#b4bb32"/>
<path d="M793.83 413.21 C795.03 411.41 798.63 409.24 801.03 409 C803.43 408.76 805.36 410.68 805.84 412 C806.32 413.32 804.87 414.17 803.43 415.61 C801.99 417.05 800.31 418.73 798.63 419.21 C796.95 419.69 795.99 419.21 795.03 418.01 C794.07 416.81 792.63 415.01 793.83 413.21Z" fill="#c6cc4a" opacity="0.7"/>
<path d="M775.82 490.8 C777.67 489.72 782.36 489.96 784.23 491.4 C786.10 492.84 785.55 495.73 785.19 498.01 C784.83 500.29 784.06 501.97 782.43 502.81 C780.80 503.65 778.51 503.41 777.02 502.21 C775.53 501.01 775.22 499.09 774.98 496.81 C774.74 494.53 773.97 491.88 775.82 490.8Z" fill="#ccd236"/>
<path d="M822.64 489 C824.44 487.80 829.18 488.28 831.05 489.6 C832.92 490.92 832.37 493.26 832.01 495.61 C831.65 497.96 830.75 500.17 829.24 501.37 C827.73 502.57 825.88 502.76 824.44 501.61 C823.00 500.46 822.40 498.13 822.04 495.61 C821.68 493.09 820.84 490.20 822.64 489Z" fill="#ccd236"/>
<rect x="802.83" y="453.42" width="20.41" height="5.04" rx="0" fill="#f6f6f2" />
<rect x="802.83" y="458.82" width="20.77" height="4.45" rx="0" fill="#f0e020" />
<rect x="809.44" y="453.18" width="7.20" height="10.45" rx="0.5" fill="#f0a322" />
<rect x="810.64" y="454.62" width="1.92" height="1.80" rx="0" fill="#6a7ad0" />
<rect x="813.52" y="454.62" width="2.16" height="2.04" rx="0" fill="#e03020" />
<rect x="811.24" y="458.82" width="3.96" height="2.64" rx="0" fill="#7a5a20" />
<circle cx="792.63" cy="457.26" r="9.6" fill="#a4d4da" opacity="0.92"/>
<path d="M784.83 451.02H800.43" stroke="#8fc0c8" stroke-width="0.5"/>
<path d="M784.83 453.42H800.43" stroke="#8fc0c8" stroke-width="0.5"/>
<path d="M784.83 455.82H800.43" stroke="#8fc0c8" stroke-width="0.5"/>
<path d="M784.83 458.22H800.43" stroke="#8fc0c8" stroke-width="0.5"/>
<path d="M784.83 460.62H800.43" stroke="#8fc0c8" stroke-width="0.5"/>
<path d="M784.83 463.03H800.43" stroke="#8fc0c8" stroke-width="0.5"/>
<rect x="822.64" y="470.83" width="11.41" height="4.44" rx="0" fill="#f6f6f2" />
<rect x="822.64" y="476.23" width="11.41" height="4.20" rx="0" fill="#f0e020" />
<rect x="801.63" y="493.81" width="21.01" height="4.44" rx="0" fill="#f6f6f2" />
<path d="M801.63 499.21 L823.84 498.97 L823.84 503.77 L813.04 504.61 L801.63 503.77Z" fill="#f0e020"/>
<rect x="808.84" y="479.83" width="5.40" height="7.81" rx="0.3" fill="#8a8a8c" />
<path d="M814.40 475.23 A1.6 1.6 0 0 1 815.84 476.67" fill="none" stroke="#b8b8ba" stroke-width="0.7"/>
<path d="M814.54 473.83 A3.0 3.0 0 0 1 817.24 476.53" fill="none" stroke="#b8b8ba" stroke-width="0.7"/>
<path d="M814.68 472.43 A4.4 4.4 0 0 1 818.64 476.39" fill="none" stroke="#b8b8ba" stroke-width="0.7"/>
<path d="M768.62 457.86L786.63 457.86" stroke="#555" stroke-width="0.4" fill="none"/>
<path d="M817.24 460.38L837.05 460.38" stroke="#333" stroke-width="0.4" fill="none"/>
<path d="M816.04 484.99L837.65 484.99" stroke="#888" stroke-width="0.4" fill="none"/>
<path d="M819.04 514.57L838.85 514.57" stroke="#333" stroke-width="0.4" fill="none"/>
<circle cx="786.63" cy="457.86" r="0.9" fill="#111"/>
<circle cx="817.24" cy="460.38" r="0.9" fill="#111"/>
<circle cx="816.04" cy="484.99" r="0.9" fill="#111"/>
<circle cx="819.04" cy="514.57" r="0.9" fill="#111"/>
</g>
<g font-family="'Liberation Sans',sans-serif" font-size="4.6" fill="#222" filter="url(#soft2)">
<text x="723.0" y="459.42" textLength="43.8" lengthAdjust="spacingAndGlyphs">Health status sensors</text>
<text x="839.69" y="453.66" textLength="23" lengthAdjust="spacingAndGlyphs">Chemical &amp;</text>
<text x="839.69" y="459.06" textLength="16.5" lengthAdjust="spacingAndGlyphs">external</text>
<text x="839.69" y="464.47" textLength="24.5" lengthAdjust="spacingAndGlyphs">temperature</text>
<text x="839.69" y="469.87" textLength="16" lengthAdjust="spacingAndGlyphs">sensors</text>
<text x="839.69" y="481.27" textLength="31" lengthAdjust="spacingAndGlyphs">Microprocessor</text>
<text x="839.69" y="486.67" textLength="29.5" lengthAdjust="spacingAndGlyphs">unit &amp; wireless</text>
<text x="840.05" y="491.64" textLength="30.5" lengthAdjust="spacingAndGlyphs">communication</text>
<text x="840.05" y="497.05" textLength="14.5" lengthAdjust="spacingAndGlyphs">module</text>
<text x="840.89" y="510.85" textLength="23" lengthAdjust="spacingAndGlyphs">Chemical &amp;</text>
<text x="840.89" y="516.25" textLength="16.5" lengthAdjust="spacingAndGlyphs">external</text>
<text x="840.89" y="521.66" textLength="24.5" lengthAdjust="spacingAndGlyphs">temperature</text>
<text x="840.89" y="527.06" textLength="16" lengthAdjust="spacingAndGlyphs">sensors</text>
</g>
</g>
<rect x="734.8" y="572.3" width="125.6" height="167.1" rx="21" fill="#131313"/>
<g id="glove" clip-path="url(#clip3)">
<g filter="url(#soft)">
<path d="M773.79 595.99 L791.18 595.39 L792.98 605.59 L795.38 605.59 L796.58 594.79 L813.97 594.19 L816.37 605.59 L818.77 613.98 L821.77 613.98 L822.97 601.99 L839.17 600.79 L840.96 613.98 L842.76 628.38 L844.56 628.38 L845.16 625.98 L858.96 624.78 L861.96 633.18 L861.96 657.17 L862 666 L862 740.67 L774 740.67 L770 724.67 L763.33 714 L756.67 703.33 L750 683.33 L746.67 666 L763.33 662.67 L768.67 676.67 L775.33 690 L776.67 676.67 L776 658 L773.19 637.98 L774.39 619.98Z" fill="#1c1e1e"/>
<path d="M778 683.33 C781.11 683.33 788.22 690.78 794 692.67 C799.78 694.56 806.45 695.12 812.67 694.67 C818.89 694.22 825.11 692.22 831.33 690 C837.55 687.78 844.89 683.66 850 681.33 C855.11 679.00 860.00 666.11 862 676 C864.00 685.89 876.67 729.89 862 740.67 C847.33 751.45 787.11 743.34 774 740.67 C760.89 738.00 782.00 730.45 783.33 724.67 C784.66 718.89 783.33 711.33 782 706 C780.67 700.67 776.00 696.45 775.33 692.67 C774.66 688.89 774.89 683.33 778 683.33Z" fill="#181a1a"/>
<path d="M778 682.67 C780.67 684.29 788.22 690.47 794 692.4 C799.78 694.33 806.45 694.71 812.67 694.27 C818.89 693.83 825.11 691.95 831.33 689.73 C837.55 687.51 844.89 683.28 850 680.93 C855.11 678.57 860.00 676.49 862 675.6" fill="none" stroke="#3a3d3d" stroke-width="0.5"/>
<path d="M792.38 605.59 L795.98 605.59 L797.18 637.98 L794.78 649.97 L792.98 637.98Z" fill="#0e0f0f"/>
<path d="M818.17 613.98 L822.37 613.98 L822.97 640.38 L821.17 652.37 L819.37 640.38Z" fill="#0e0f0f"/>
<path d="M842.16 628.38 L845.4 628.38 L845.16 649.97 L843.36 657.17Z" fill="#0e0f0f"/>
<path d="M773.79 595.99 C771.83 594.37 773.41 590.95 774.39 587.59 C775.37 584.23 776.02 583.28 777.98 581.6 C779.94 579.92 780.54 580.26 782.78 580.4 C785.02 580.54 785.76 580.37 787.58 582.19 C789.40 584.01 789.74 585.11 790.58 588.19 C791.42 591.27 793.00 593.91 791.18 595.39 C789.36 596.87 786.84 594.41 782.78 594.55 C778.72 594.69 775.75 597.61 773.79 595.99Z" fill="#eeb393"/>
<path d="M796.34 594.79 C794.16 592.55 795.46 587.27 796.22 582.79 C796.98 578.31 797.54 577.84 799.58 575.6 C801.62 573.36 802.46 573.20 804.98 573.2 C807.50 573.20 808.41 573.36 810.37 575.6 C812.33 577.84 812.47 578.45 813.37 582.79 C814.27 587.13 816.03 591.95 814.21 594.19 C812.39 596.43 809.75 592.25 805.58 592.39 C801.41 592.53 798.52 597.03 796.34 594.79Z" fill="#eeb393"/>
<path d="M822.97 601.39 C821.15 599.57 822.27 595.43 822.97 591.79 C823.67 588.15 824.29 587.61 825.97 585.79 C827.65 583.97 828.07 583.99 830.17 583.99 C832.27 583.99 833.01 583.69 834.97 585.79 C836.93 587.89 837.59 589.49 838.57 592.99 C839.55 596.49 840.99 599.25 839.17 600.79 C837.35 602.33 834.55 599.45 830.77 599.59 C826.99 599.73 824.79 603.21 822.97 601.39Z" fill="#eeb393"/>
<path d="M844.92 625.98 C843.24 623.96 844.40 619.24 845.16 615.18 C845.92 611.12 846.48 610.49 848.16 608.59 C849.84 606.69 850.40 606.75 852.36 607.03 C854.32 607.31 854.94 607.61 856.56 609.79 C858.18 611.97 858.62 612.88 859.32 616.38 C860.02 619.88 861.18 623.04 859.56 624.78 C857.94 626.52 855.78 623.54 852.36 623.82 C848.94 624.10 846.60 628.00 844.92 625.98Z" fill="#eeb393"/>
<path d="M779.18 583.99 C780.72 582.73 782.30 581.95 783.98 582.79 C785.66 583.63 786.38 585.21 786.38 587.59 C786.38 589.97 785.66 591.87 783.98 592.99 C782.30 594.11 780.72 593.51 779.18 592.39 C777.64 591.27 777.38 590.15 777.38 588.19 C777.38 586.23 777.64 585.25 779.18 583.99Z" fill="#f6c9ae"/>
<path d="M801.38 576.2 C803.20 574.52 805.42 574.34 807.38 575.6 C809.34 576.86 809.63 578.24 809.77 581.6 C809.91 584.96 809.80 588.03 807.98 589.99 C806.16 591.95 803.94 591.67 801.98 589.99 C800.02 588.31 799.72 586.01 799.58 582.79 C799.44 579.57 799.56 577.88 801.38 576.2Z" fill="#f6c9ae"/>
<path d="M827.17 586.99 C828.71 585.59 830.75 585.27 832.57 586.39 C834.39 587.51 834.83 589.13 834.97 591.79 C835.11 594.45 834.85 596.39 833.17 597.79 C831.49 599.19 829.45 599.05 827.77 597.79 C826.09 596.53 826.11 594.91 825.97 592.39 C825.83 589.87 825.63 588.39 827.17 586.99Z" fill="#f6c9ae"/>
<path d="M743.2 648.77 C744.13 647.03 745.83 646.85 747.99 646.61 C750.15 646.37 751.83 646.42 753.99 647.57 C756.15 648.72 757.23 649.97 758.79 652.37 C760.35 654.77 760.88 657.51 761.79 659.57 C762.70 661.63 766.35 661.33 763.33 662.67 C760.31 664.01 750.67 667.74 746.67 666.27 C742.67 664.80 744.02 658.83 743.33 655.33 C742.64 651.83 742.27 650.51 743.2 648.77Z" fill="#eeae8c"/>
<circle cx="784.58" cy="620.58" r="4.1" fill="#2a2a2a" stroke="#e6e6e6" stroke-width="0.5"/>
<circle cx="784.58" cy="620.58" r="2.9" fill="#ffffff"/>
<circle cx="808.57" cy="620.22" r="4.1" fill="#2a2a2a" stroke="#e6e6e6" stroke-width="0.5"/>
<circle cx="808.57" cy="620.22" r="2.9" fill="#ffffff"/>
<circle cx="833.41" cy="627.18" r="4.1" fill="#2a2a2a" stroke="#e6e6e6" stroke-width="0.5"/>
<circle cx="833.41" cy="627.18" r="2.9" fill="#ffffff"/>
<circle cx="854.76" cy="644.21" r="4.1" fill="#2a2a2a" stroke="#e6e6e6" stroke-width="0.5"/>
<circle cx="854.76" cy="644.21" r="2.9" fill="#ffffff"/>
<circle cx="754.67" cy="696.4" r="4.1" fill="#2a2a2a" stroke="#e6e6e6" stroke-width="0.5"/>
<circle cx="754.67" cy="696.4" r="2.9" fill="#ffffff"/>
</g>
</g>
<g fill="none" stroke="#12bce0">
<rect x="657" y="231.85" width="280.9" height="167.05" rx="28" stroke-width="2.05"/>
<rect x="717.8" y="403.1" width="159.4" height="164.75" rx="25" stroke-width="2.05"/>
<rect x="734.85" y="572.2" width="125.75" height="167.4" rx="21.5" stroke-width="2.25"/>
</g>
</svg>
<div class="abs" id="bar"></div>
<div class="t" id="title">应用领域</div>
<div class="t" id="sub">纺织<i style="width:17.75px;transform:scale(1.35,0.8);transform-origin:50% 22%">/</i>可穿戴设备领域<i style="width:71px">–</i>压阻式油墨</div>
<div class="t lbl" style="left:117.6px;top:419.8px;">领域</div>
<div class="t lbl" style="left:423px;top:254.8px;">应用</div>
<div class="t lbl" style="left:1099.6px;top:251.8px;color:#1a1a1a;-webkit-text-stroke:0;">好处</div>
<div class="t" style="left:66px;top:480px;font-size:21px;letter-spacing:1.3px;color:#111;">工业与安全应用</div>
<div class="t box" style="left:357.6px;top:292px;">用于检测过度压力<br>或应力的智能工作服</div>
<div class="t box" style="left:348px;top:467px;">嵌入消防员或军事装备<br>中的实时监测传感器</div>
<div class="t box" style="left:353.7px;top:652px;">用于机器人控制或<br>康复的压力感应手套</div>
<div class="t box" style="left:1016.5px;top:303px;font-size:15.9px;letter-spacing:0.85px;">提高工作场所安全性和预防伤害</div>
<div class="t box" style="left:1027px;top:482px;">在危险环境中提供更好的</div>
<div class="t box" style="left:1065px;top:652px;">增强专业人员的<br>精确度和灵活性</div>
</body>
</html>
